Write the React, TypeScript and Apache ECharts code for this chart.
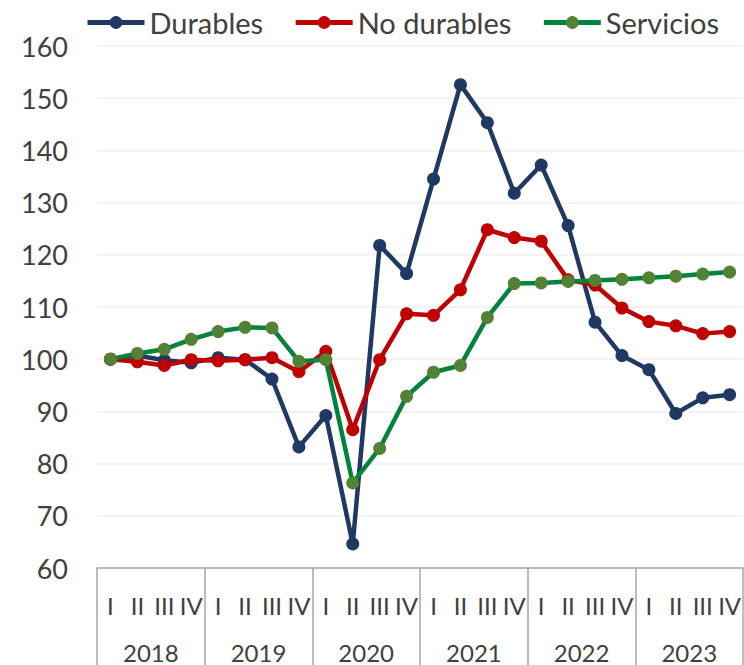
import React, { useEffect, useRef } from "react";
import * as echarts from "echarts";

const quarterLabels = [
  "I", "II", "III", "IV",
  "I", "II", "III", "IV",
  "I", "II", "III", "IV",
  "I", "II", "III", "IV",
  "I", "II", "III", "IV",
  "I", "II", "III", "IV",
];
const years = ["2018", "2019", "2020", "2021", "2022", "2023"];
const yTicks = { min: 60, max: 160, interval: 10 };

const durables = [
  100, 100.7, 99.8, 99.3, 100.3, 99.9, 96.2, 83.2,
  89.2, 64.6, 121.8, 116.4, 134.5, 152.6, 145.3, 131.8,
  137.2, 125.6, 107.1, 100.7, 98.0, 89.6, 92.6, 93.2,
];
const noDurables = [
  100, 99.5, 98.8, 99.9, 99.7, 99.9, 100.3, 97.6,
  101.5, 86.5, 99.9, 108.7, 108.4, 113.3, 124.8, 123.3,
  122.6, 115.2, 114.2, 109.8, 107.2, 106.4, 104.9, 105.3,
];
const servicios = [
  100, 101.1, 101.9, 103.8, 105.3, 106.1, 106.0, 99.6,
  99.9, 76.3, 82.9, 92.9, 97.5, 98.8, 108.0, 114.5,
  114.6, 114.9, 115.1, 115.3, 115.6, 115.9, 116.3, 116.7,
];

const FONT = "Lato, 'Open Sans', sans-serif";
const TEXT = "#404040";
const AXIS = "#A6A6A6";

export default function App() {
  const ref = useRef<HTMLDivElement>(null);
  useEffect(() => {
    if (!ref.current) return;
    const chart = echarts.init(ref.current, null, { renderer: "svg" });
    const mk = (name: string, data: number[], line: string, marker: string) => ({
      name,
      type: "line",
      data,
      xAxisIndex: 0,
      symbol: "circle",
      symbolSize: 13,
      lineStyle: { color: line, width: 4.5 },
      itemStyle: { color: marker },
    });
    chart.setOption({
      animation: false,
      legend: {
        left: 85,
        top: 8,
        padding: 0,
        itemWidth: 57,
        itemHeight: 16,
        itemGap: 30,
        lineStyle: { width: 5 },
        textStyle: { fontSize: 29, color: TEXT, fontFamily: FONT },
        data: ["Durables", "No durables", "Servicios"],
      },
      grid: { left: 97, right: -5, top: 46, bottom: 97, containLabel: false },
      xAxis: [
        {
          type: "category",
          data: quarterLabels,
          boundaryGap: true,
          position: "bottom",
          axisLine: { lineStyle: { color: AXIS, width: 1.5 } },
          axisTick: { show: false },
          axisLabel: { interval: 0, margin: 25, fontSize: 24, color: TEXT, fontFamily: FONT },
          splitLine: { show: false },
        },
        {
          type: "category",
          data: years,
          boundaryGap: true,
          position: "bottom",
          axisLine: { show: false },
          axisTick: { show: true, interval: 0, length: 100, lineStyle: { color: AXIS, width: 1.5 } },
          axisLabel: { interval: 0, margin: 72, fontSize: 24, color: TEXT, fontFamily: FONT },
          splitLine: { show: false },
        },
      ],
      yAxis: {
        type: "value",
        min: yTicks.min,
        max: yTicks.max,
        interval: yTicks.interval,
        axisLine: { show: false },
        axisTick: { show: false },
        axisLabel: { margin: 29, fontSize: 27, color: TEXT, fontFamily: FONT },
        splitLine: { lineStyle: { color: "#EFEFEF", width: 1.5 } },
      },
      series: [
        mk("Durables", durables, "#1F3864", "#1F3864"),
        mk("No durables", noDurables, "#C00000", "#C00000"),
        mk("Servicios", servicios, "#00843D", "#548235"),
      ],
    });
    return () => chart.dispose();
  }, []);
  return (
    <div
      ref={ref}
      style={{ position: "fixed", left: 0, top: 0, width: 744, height: 665, background: "#fff" }}
    />
  );
}
